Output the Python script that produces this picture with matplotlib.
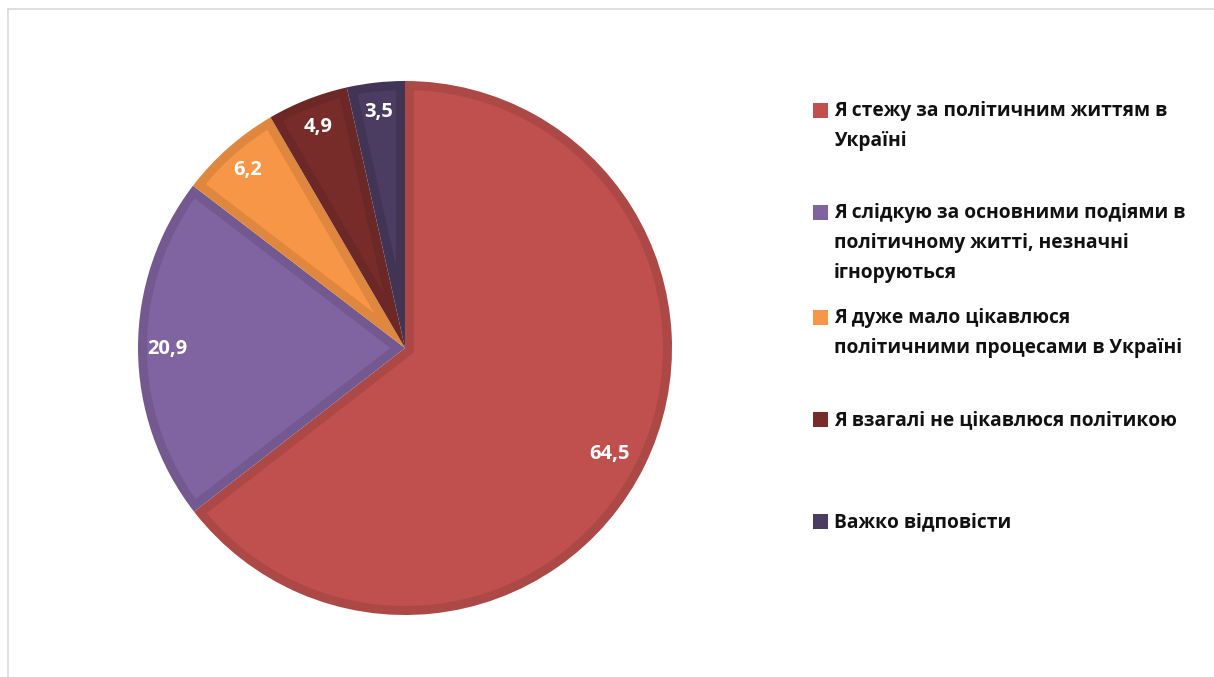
import matplotlib
matplotlib.use('Agg')
import numpy as np
import matplotlib.pyplot as plt
from matplotlib.patches import Rectangle, Polygon
from matplotlib.lines import Line2D

# data
labels = ['Я стежу за політичним життям в\nУкраїні',
          'Я слідкую за основними подіями в\nполітичному житті, незначні\nігноруються',
          'Я дуже мало цікавлюся\nполітичними процесами в Україні',
          'Я взагалі не цікавлюся політикою',
          'Важко відповісти']
values = [64.5, 20.9, 6.2, 4.9, 3.5]
fills = ['#C0504D', '#8064A2', '#F79646', '#772C2A', '#4B3C62']
edges = ['#AC4845', '#73598F', '#DF873F', '#6B2826', '#413454']

plt.rcParams['font.family'] = ['Open Sans', 'DejaVu Sans']

fig = plt.figure(figsize=(12.14, 6.77), dpi=100)
W, H = 1214, 677

# grey frame lines (top + left)
fig.add_artist(Line2D([8 / W, 1], [1 - 9 / H, 1 - 9 / H], color='#D9D9D9', lw=1.2))
fig.add_artist(Line2D([8 / W, 8 / W], [0, 1 - 9 / H], color='#D9D9D9', lw=1.2))

# pie axes: center (405,348) px, radius 267 px
cx, cy, R = 405, 348, 267
ax = fig.add_axes([(cx - R) / W, (H - cy - R) / H, 2 * R / W, 2 * R / H])

# dark outer wedges = border colour
wedges, texts, autotexts = ax.pie(
    values, colors=edges, startangle=90, counterclock=False, radius=1.0,
    autopct=lambda p: f'{p:.1f}'.replace('.', ','), pctdistance=0.89,
    textprops=dict(color='white', fontsize=14.5, fontweight='bold', zorder=5),
    wedgeprops=dict(linewidth=0))
ax.set_xlim(-1, 1)
ax.set_ylim(-1, 1)
ax.set_aspect('equal')
ax.axis('off')

# lighter inset for every slice (border ~9 px inside)
d = 9 / R
for w, fc in zip(wedges, fills):
    t1, t2 = np.radians(w.theta1), np.radians(w.theta2)
    half = (t2 - t1) / 2
    rho = w.r - d
    dl = np.arcsin(d / rho)
    arc = np.linspace(t1 + dl, t2 - dl, 200)
    apex_r = d / np.sin(half)
    mid = (t1 + t2) / 2
    pts = [(apex_r * np.cos(mid), apex_r * np.sin(mid))]
    pts += list(zip(rho * np.cos(arc), rho * np.sin(arc)))
    ax.add_patch(Polygon(pts, closed=True, facecolor=fc, edgecolor='none', zorder=2))

x0, y0 = autotexts[0].get_position()
autotexts[0].set_position((x0 * 0.96, y0 * 0.96 - 0.02))

# legend drawn by hand
tops = [111, 213, 318, 420, 522]
for lab, col, yt in zip(labels, fills, tops):
    fig.add_artist(Rectangle((813 / W, 1 - (yt + 7) / H), 15 / W, 15 / H,
                             transform=fig.transFigure, facecolor=col,
                             edgecolor='none'))
    fig.text(834 / W, 1 - (yt - 10) / H, lab, fontsize=13.8, fontweight='bold',
             color='#111111', va='top', ha='left', linespacing=1.66)

fig.savefig('out.png', dpi=100)
